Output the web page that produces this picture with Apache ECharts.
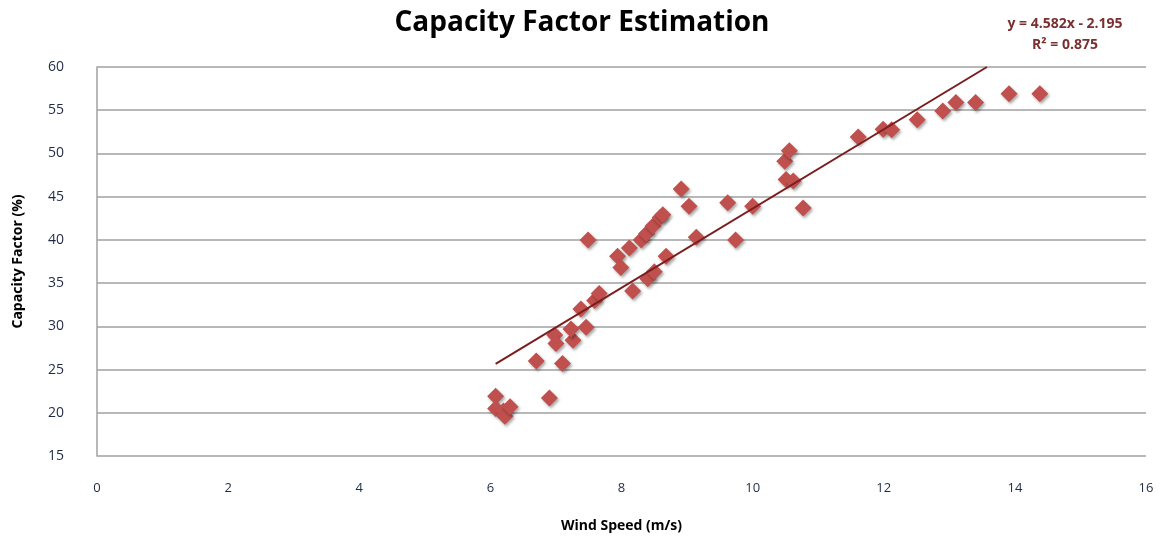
<!DOCTYPE html>
<html><head><meta charset="utf-8">
<script src="https://cdn.jsdelivr.net/npm/echarts@6/dist/echarts.min.js"></script>
<style>html,body{margin:0;padding:0;background:#fff}#c{width:1164px;height:538px}</style>
</head><body><div id="c"></div>
<script>
const windSpeed = [6.08,6.08,6.2,6.22,6.3,6.9,6.7,7.1,6.98,7.0,7.26,7.23,7.46,7.38,7.59,7.66,7.49,7.94,7.99,8.17,8.12,8.3,8.38,8.4,8.5,8.48,8.59,8.63,8.68,8.91,9.03,9.14,9.62,9.74,10.0,10.49,10.56,10.51,10.62,10.77,11.61,11.99,12.12,12.51,12.9,13.1,13.4,13.91,14.38];
const capacityFactor = [21.9,20.5,20.2,19.6,20.7,21.7,26.0,25.7,29.0,28.0,28.4,29.7,29.9,32.0,33.0,33.8,40.0,38.1,36.8,34.1,39.05,40.0,40.7,35.5,36.3,41.6,42.6,42.9,38.1,45.9,43.9,40.3,44.3,40.0,43.9,49.1,50.3,47.0,46.8,43.7,51.9,52.8,52.75,53.9,54.9,55.9,55.9,56.9,56.9];
const trendSlope = 4.582, trendIntercept = -2.195;
const equationText = ['y = 4.582x - 2.195', 'R² = 0.875'];
const xTicks = {min:0, max:16, interval:2};
const yTicks = {min:15, max:60, interval:5};

const pts = windSpeed.map((x,i)=>[x, capacityFactor[i]]);
const xMin = Math.min(...windSpeed);
const xEnd = (yTicks.max - trendIntercept)/trendSlope;
const trend = [[xMin, trendSlope*xMin+trendIntercept],[xEnd, yTicks.max]];

const chart = echarts.init(document.getElementById('c'));
const font = "'Open Sans', 'Liberation Sans', sans-serif";
const eqStyle = {fontFamily:font, fontSize:14, fontWeight:'bold', fill:'#7a3030', align:'center', verticalAlign:'middle'};
chart.setOption({
  animation:false,
  title:{text:'Capacity Factor Estimation', left:'center', top:4,
    textStyle:{fontFamily:font, fontSize:28, fontWeight:'bold', color:'#000'}},
  graphic:[
    {type:'text', x:1065, y:24, style:Object.assign({text:equationText[0]}, eqStyle)},
    {type:'text', x:1065, y:45, style:Object.assign({text:equationText[1]}, eqStyle)}
  ],
  grid:{left:97, right:18, top:67, bottom:80},
  xAxis:{type:'value', min:xTicks.min, max:xTicks.max, interval:xTicks.interval,
    name:'Wind Speed (m/s)', nameLocation:'middle', nameGap:63,
    nameTextStyle:{fontFamily:font, fontSize:14, fontWeight:'bold', color:'#000'},
    axisLine:{show:false}, axisTick:{show:false}, splitLine:{show:false},
    axisLabel:{margin:26, fontFamily:font, fontSize:13, color:'#1f2a44'}},
  yAxis:{type:'value', min:yTicks.min, max:yTicks.max, interval:yTicks.interval,
    name:'Capacity Factor (%)', nameLocation:'middle', nameGap:72, nameRotate:90,
    nameTextStyle:{fontFamily:font, fontSize:14, fontWeight:'bold', color:'#000'},
    axisLine:{show:true, lineStyle:{color:'#a0a0a0', width:1.5}}, axisTick:{show:false},
    splitLine:{lineStyle:{color:'#a0a0a0', width:1.5}},
    axisLabel:{margin:33, fontFamily:font, fontSize:14, color:'#1f2a44'}},
  series:[
    {type:'scatter', data:pts, symbol:'diamond', symbolSize:17,
      itemStyle:{color:'#c0504d', opacity:1, shadowColor:'rgba(0,0,0,0.35)', shadowBlur:3, shadowOffsetX:1.5, shadowOffsetY:2}, z:3},
    {type:'line', data:trend, showSymbol:false, symbol:'none',
      lineStyle:{color:'#7b1d1d', width:2}, z:4}
  ]
});
</script></body></html>
